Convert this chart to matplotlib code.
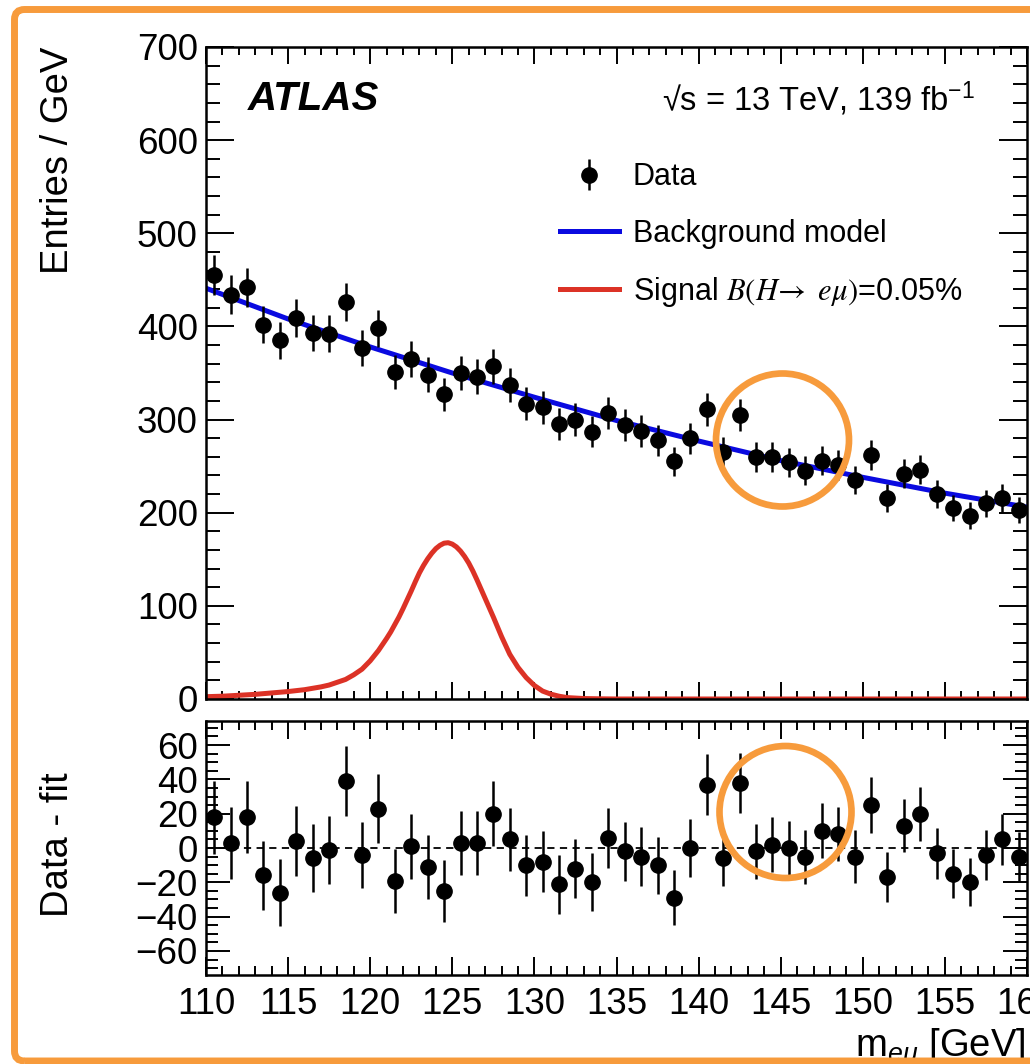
import matplotlib.pyplot as plt
from matplotlib.patches import Circle, FancyBboxPatch
from matplotlib.ticker import MultipleLocator
from matplotlib.transforms import IdentityTransform
from matplotlib.lines import Line2D
import numpy as np

plt.rcParams["font.family"] = ["Liberation Sans", "DejaVu Sans"]
plt.rcParams["mathtext.fontset"] = "custom"
plt.rcParams["mathtext.rm"] = "Liberation Sans"
plt.rcParams["mathtext.it"] = "Liberation Sans:italic"
plt.rcParams["mathtext.bf"] = "Liberation Sans:bold"

# 1 GeV bins from 110 to 160 GeV
mass = np.arange(110.5, 160.0, 1.0)

data = [455, 434, 442, 402, 385, 409, 393, 392, 426, 377,
        398, 351, 365, 348, 327, 350, 346, 357, 337, 317,
        313, 295, 300, 287, 307, 294, 288, 278, 255, 280,
        311, 265, 305, 260, 260, 254, 245, 256, 251, 235,
        262, 216, 242, 246, 220, 205, 197, 210, 216, 203]

data_err = [21.3, 20.8, 21.0, 20.0, 19.6, 20.2, 19.8, 19.8, 20.6, 19.4,
            19.9, 18.7, 19.1, 18.7, 18.1, 18.7, 18.6, 18.9, 18.4, 17.8,
            17.7, 17.2, 17.3, 16.9, 17.5, 17.1, 17.0, 16.7, 16.0, 16.7,
            17.6, 16.3, 17.5, 16.1, 16.1, 15.9, 15.7, 16.0, 15.8, 15.3,
            16.2, 14.7, 15.6, 15.7, 14.8, 14.3, 14.0, 14.5, 14.7, 14.2]

residual = [18, 3, 18, -16, -26, 4, -6, -1, 39, -4,
            23, -19, 1, -11, -25, 3, 3, 20, 5, -10,
            -8, -21, -12, -20, 6, -2, -5, -10, -29, 0,
            37, -6, 38, -2, 2, 0, -5, 10, 8, -5,
            25, -17, 13, 20, -3, -15, -20, -4, 5, -5]

# background fit
bkg_mass = [110, 115, 120, 125, 130, 135, 140, 145, 150, 155, 160]
bkg = [441, 408, 378, 350, 324, 299, 277, 256, 238, 221, 206]

# signal shape for B(H -> e mu) = 0.05%
sig_mass = [110, 111, 112, 113, 114, 115, 116, 117, 117.5, 118, 118.5,
            119, 119.5, 120, 120.5, 121, 121.25, 121.5, 121.75, 122,
            122.25, 122.5, 122.75, 123, 123.25, 123.5, 123.75, 124,
            124.25, 124.5, 124.75, 125, 125.25, 125.5, 125.75, 126,
            126.25, 126.5, 126.75, 127, 127.25, 127.5, 127.75, 128,
            128.5, 129, 129.5, 130, 130.5, 131, 131.5, 132, 133, 134,
            135, 160]
sig = [2.5, 3, 4, 5, 6.5, 8, 10, 13, 15, 18, 21,
       26, 32, 41, 52, 65, 72, 80, 88, 97,
       106.5, 116, 126, 135.5, 143.5, 150.5, 156.5, 161.5,
       165, 167.3, 167.8, 166.3, 163.3, 158.8, 153, 146,
       137.5, 128, 118, 108, 98, 88, 77.5, 67,
       48, 34, 23, 14.5, 8.5, 5.2, 3, 1.5, 0.5, 0.2,
       0, 0]

W, H = 1030, 1064
fig = plt.figure(figsize=(W / 100, H / 100), dpi=100)


def px_box(left, top, right, bottom):
    return [left / W, 1 - bottom / H, (right - left) / W, (bottom - top) / H]


def root_style(a, xlen, ylen):
    a.tick_params(which="both", direction="in", top=True, right=True,
                  width=1.4, labelsize=26.5)
    a.tick_params(axis="x", which="major", length=xlen, pad=9)
    a.tick_params(axis="x", which="minor", length=xlen / 2)
    a.tick_params(axis="y", which="major", length=ylen, pad=6)
    a.tick_params(axis="y", which="minor", length=ylen / 2)
    a.xaxis.set_major_locator(MultipleLocator(5))
    a.xaxis.set_minor_locator(MultipleLocator(1))
    for s in a.spines.values():
        s.set_linewidth(1.8)


ax = fig.add_axes(px_box(206, 47, 1027, 699))
ax2 = fig.add_axes(px_box(206, 721, 1027, 975))

# upper panel
ax.plot(bkg_mass, bkg, color="#0a0ae0", lw=3.6, zorder=2)
ax.plot(sig_mass, sig, color="#dc3226", lw=3.6, zorder=2)
ax.errorbar(mass, data, yerr=data_err, fmt="o", color="black",
            markersize=11, elinewidth=1.8, capsize=0, zorder=3)
ax.set_xlim(110, 160)
ax.set_ylim(0, 700)
root_style(ax, 12, 20)
ax.yaxis.set_major_locator(MultipleLocator(100))
ax.yaxis.set_minor_locator(MultipleLocator(20))
ax.tick_params(labelbottom=False)
ax.set_ylabel("Entries / GeV", fontsize=27.5, loc="top", va="center")
ax.yaxis.set_label_coords(-0.180, 1.0)

ax.text(0.051, 0.9034, "ATLAS", transform=ax.transAxes, fontsize=29,
        fontweight="bold", fontstyle="italic", va="baseline")
ax.text(0.9367, 0.9018, "√s = 13 TeV, 139 fb$^{-1}$", transform=ax.transAxes,
        fontsize=23.5, ha="right", va="baseline")

data_handle = ax.errorbar([], [], yerr=[], fmt="o", color="black",
                          markersize=11, elinewidth=1.8, capsize=0)
bkg_handle = Line2D([], [], color="#0a0ae0", lw=3.6)
sig_handle = Line2D([], [], color="#dc3226", lw=3.6)
labels = ["Data", "Background model",
          r"Signal $B(H\!\rightarrow\ e\mu)$=0.05%"]
leg = ax.legend([data_handle, bkg_handle, sig_handle], labels,
                loc="upper left", bbox_to_anchor=(0.431, 0.823),
                frameon=False, fontsize=22, handlelength=1.93,
                handletextpad=0.45, labelspacing=0.86, borderpad=0,
                borderaxespad=0)
leg.get_texts()[2].set_math_fontfamily("stix")

# lower panel: data minus background fit
ax2.axhline(0, color="black", lw=1.3, ls=(0, (4, 3)), zorder=1)
ax2.errorbar(mass, residual, yerr=data_err, fmt="o", color="black",
             markersize=11, elinewidth=1.8, capsize=0, zorder=3)
ax2.set_xlim(110, 160)
ax2.set_ylim(-74, 74)
root_style(ax2, 13, 17)
ax2.yaxis.set_major_locator(MultipleLocator(20))
ax2.yaxis.set_minor_locator(MultipleLocator(5))
ax2.set_ylabel("Data - fit", fontsize=27.5, va="center")
ax2.yaxis.set_label_coords(-0.180, 0.512)
ax2.set_xlabel(r"m$_{e\mu}$ [GeV]", fontsize=27.5, loc="right")
ax2.xaxis.set_label_coords(0.998, -0.203)

# highlight rings and frame, in pixel coordinates
ident = IdentityTransform()
orange = "#f79b3c"
for cx, cy, r in [(782.5, 440, 66.5), (785.5, 812, 66)]:
    fig.add_artist(Circle((cx, H - cy), r, transform=ident, fill=False,
                          edgecolor=orange, lw=4.8, zorder=10))
fig.add_artist(FancyBboxPatch((14.5, H - 1061), 1100, 1061 - 9.5,
                              boxstyle="round,pad=0,rounding_size=10",
                              transform=ident, fill=False,
                              edgecolor=orange, lw=5, zorder=10))

fig.savefig("out.png", dpi=100)
